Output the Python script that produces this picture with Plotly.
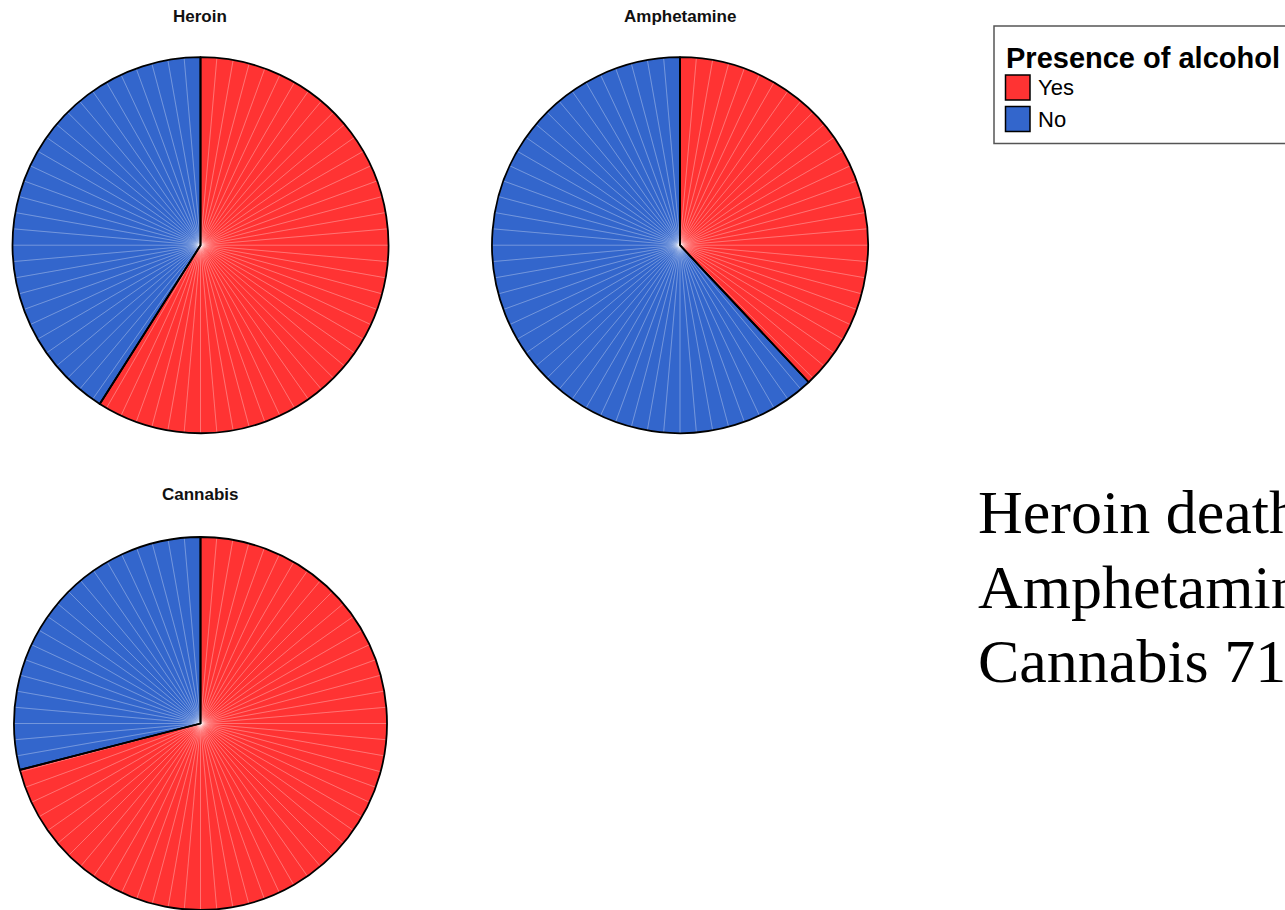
import plotly.graph_objects as go

# Share of deaths with alcohol present (%), per drug
drugs = ["Heroin", "Amphetamine", "Cannabis"]
alcohol_labels = ["Yes", "No"]
alcohol_yes_pct = [59, 38, 71]
alcohol_no_pct = [100 - v for v in alcohol_yes_pct]
summary_lines = ["Heroin deaths 59%", "Amphetamine 38%", "Cannabis 71%"]

COLORS = {"Yes": "#FF3333", "No": "#3366CC"}
N_SPOKES = 72  # faint radial texture lines

W, H = 1285, 910


def px_x(x):
    return x / W


def px_y(y):
    return 1 - y / H


# pie placement in pixels: (centre x, centre y, radius)
pie_geom = {
    "Heroin": (200.5, 245.2, 188.0),
    "Amphetamine": (680.0, 245.2, 188.0),
    "Cannabis": (200.5, 723.5, 186.5),
}

fig = go.Figure()

for drug, yes, no in zip(drugs, alcohol_yes_pct, alcohol_no_pct):
    cx, cy, r = pie_geom[drug]
    dom = dict(x=[px_x(cx - r), px_x(cx + r)], y=[max(0, px_y(cy + r)), px_y(cy - r)])
    common = dict(domain=dom, sort=False, direction="clockwise", rotation=0,
                  textinfo="none", hoverinfo="skip", showlegend=False)
    # filled slices
    fig.add_trace(go.Pie(labels=alcohol_labels, values=[yes, no],
                         marker=dict(colors=[COLORS[l] for l in alcohol_labels],
                                     line=dict(width=0)), **common))
    # thin spokes
    fig.add_trace(go.Pie(labels=[f"s{i}" for i in range(N_SPOKES)], values=[1] * N_SPOKES,
                         marker=dict(colors=["rgba(0,0,0,0)"] * N_SPOKES,
                                     line=dict(color="rgba(255,255,255,0.25)", width=0.7)),
                         **common))
    # black outline
    fig.add_trace(go.Pie(labels=alcohol_labels, values=[yes, no],
                         marker=dict(colors=["rgba(0,0,0,0)"] * 2,
                                     line=dict(color="black", width=1.8)), **common))

sans = "Liberation Sans, Arial, sans-serif"
serif = "Liberation Serif, Times New Roman, serif"

annotations = []
shapes = []

# pie titles
title_pos = {"Heroin": (200, 16), "Amphetamine": (680, 16), "Cannabis": (200, 495)}
for drug in drugs:
    tx, ty = title_pos[drug]
    annotations.append(dict(x=px_x(tx), y=px_y(ty), xref="paper", yref="paper",
                            text=drug, showarrow=False, xanchor="center", yanchor="middle",
                            font=dict(family=sans, size=17, color="#111", weight="bold")))

# legend box
shapes.append(dict(type="rect", xref="paper", yref="paper",
                   x0=px_x(994), x1=px_x(1320), y0=px_y(143.5), y1=px_y(26),
                   line=dict(color="#555", width=1.5), fillcolor="white", layer="below"))
annotations.append(dict(x=px_x(1004), y=px_y(58), xref="paper", yref="paper",
                        text="Presence of alcohol", showarrow=False, xanchor="left",
                        yanchor="middle",
                        font=dict(family=sans, size=29, color="black", weight="bold")))
sw_top = [75, 106.5]
for lab, top in zip(alcohol_labels, sw_top):
    shapes.append(dict(type="rect", xref="paper", yref="paper",
                       x0=px_x(1005.5), x1=px_x(1030), y0=px_y(top + 25), y1=px_y(top),
                       line=dict(color="black", width=1.5), fillcolor=COLORS[lab]))
    annotations.append(dict(x=px_x(1036), y=px_y(top + 13), xref="paper", yref="paper",
                            text=lab, showarrow=False, xanchor="left", yanchor="middle",
                            font=dict(family=sans, size=22, color="black")))

# summary text
line_y = [512, 587, 661]
for txt, ly in zip(summary_lines, line_y):
    annotations.append(dict(x=px_x(976), y=px_y(ly), xref="paper", yref="paper",
                            text=txt, showarrow=False, xanchor="left", yanchor="middle",
                            font=dict(family=serif, size=62, color="black")))

fig.update_layout(
    width=W, height=H,
    margin=dict(l=0, r=0, t=0, b=0, pad=0),
    paper_bgcolor="white", plot_bgcolor="white",
    showlegend=False,
    annotations=annotations, shapes=shapes,
)

fig.write_html("out.html")
